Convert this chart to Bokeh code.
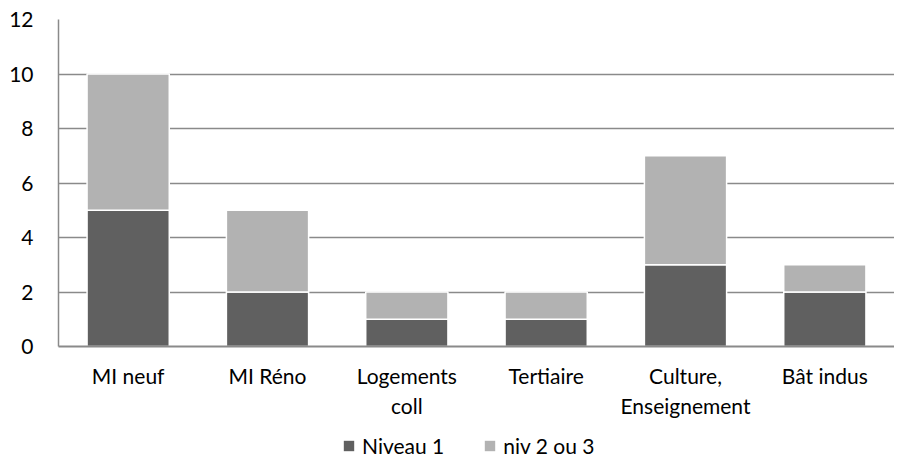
from bokeh.plotting import figure
from bokeh.layouts import column
from bokeh.models import ColumnDataSource, Legend, LegendItem, FixedTicker, Range1d
from bokeh.embed import file_html
from bokeh.resources import INLINE

categories = ["MI neuf", "MI Réno", "Logements\ncoll", "Tertiaire", "Culture,\nEnseignement", "Bât indus"]
niveau1 = [5, 2, 1, 1, 3, 2]
niv23 = [5, 3, 1, 1, 4, 1]
y_ticks = [0, 2, 4, 6, 8, 10, 12]
series_names = ["Niveau 1", "niv 2 ou 3"]

FONT = "Lato"
DARK = "#606060"
LIGHT = "#b2b2b2"

x = list(range(len(categories)))
src = ColumnDataSource(dict(
    x=x,
    n1=niveau1,
    n23=niv23,
    top1=niveau1,
    top2=[a + b for a, b in zip(niveau1, niv23)],
))

p = figure(width=894, height=420, output_backend="svg", toolbar_location=None,
           x_range=Range1d(-0.5, len(categories) - 0.5), y_range=Range1d(0, 12),
           min_border_left=58, min_border_right=0, min_border_top=19, min_border_bottom=71)
p.outline_line_color = None

r1 = p.vbar(x="x", bottom=0, top="top1", width=0.59, source=src,
            fill_color=DARK, line_color="white", line_width=1.5)
r2 = p.vbar(x="x", bottom="top1", top="top2", width=0.59, source=src,
            fill_color=LIGHT, line_color="white", line_width=1.5)

p.xgrid.visible = False
p.ygrid.ticker = FixedTicker(ticks=y_ticks)
p.ygrid.grid_line_color = "#8a8a8a"
p.ygrid.grid_line_width = 1.5
p.ygrid.level = "underlay"

p.yaxis.ticker = FixedTicker(ticks=y_ticks)
p.yaxis.major_tick_line_color = None
p.yaxis.minor_tick_line_color = None
p.yaxis.axis_line_color = "#8a8a8a"
p.yaxis.axis_line_width = 1.5
p.yaxis.major_label_text_font = FONT
p.yaxis.major_label_text_font_size = "21px"
p.yaxis.major_label_text_color = "#000000"
p.yaxis.major_label_standoff = 19

p.xaxis.ticker = FixedTicker(ticks=x)
p.xaxis.major_label_overrides = {i: c for i, c in zip(x, categories)}
p.xaxis.major_tick_line_color = None
p.xaxis.minor_tick_line_color = None
p.xaxis.axis_line_color = "#8a8a8a"
p.xaxis.axis_line_width = 2
p.xaxis.major_label_text_font = FONT
p.xaxis.major_label_text_font_size = "21px"
p.xaxis.major_label_text_color = "#000000"
p.xaxis.major_label_standoff = 10

# legend strip below the chart (proxy renderers sit outside the visible range)
p2 = figure(width=894, height=38, output_backend="svg", toolbar_location=None,
            x_range=Range1d(0, 1), y_range=Range1d(0, 1),
            min_border_left=0, min_border_right=0, min_border_top=0, min_border_bottom=0)
p2.axis.visible = False
p2.grid.visible = False
p2.outline_line_color = None
proxy = ColumnDataSource(dict(x=[-5], top=[-5]))
l1 = p2.vbar(x="x", top="top", width=0.1, source=proxy, fill_color=DARK, line_color=None)
l2 = p2.vbar(x="x", top="top", width=0.1, source=proxy, fill_color=LIGHT, line_color=None)

legend = Legend(items=[LegendItem(label=series_names[0], renderers=[l1]),
                       LegendItem(label=series_names[1], renderers=[l2])],
                orientation="horizontal", location=(284, 0),
                label_text_font=FONT, label_text_font_size="21px",
                label_text_color="#000000", glyph_width=13, glyph_height=13,
                spacing=39, label_standoff=7, border_line_color=None,
                background_fill_alpha=0, padding=0, margin=0)
p2.add_layout(legend, "center")

layout = column(p, p2, spacing=0)
open("out.html", "w").write(file_html(layout, INLINE))
